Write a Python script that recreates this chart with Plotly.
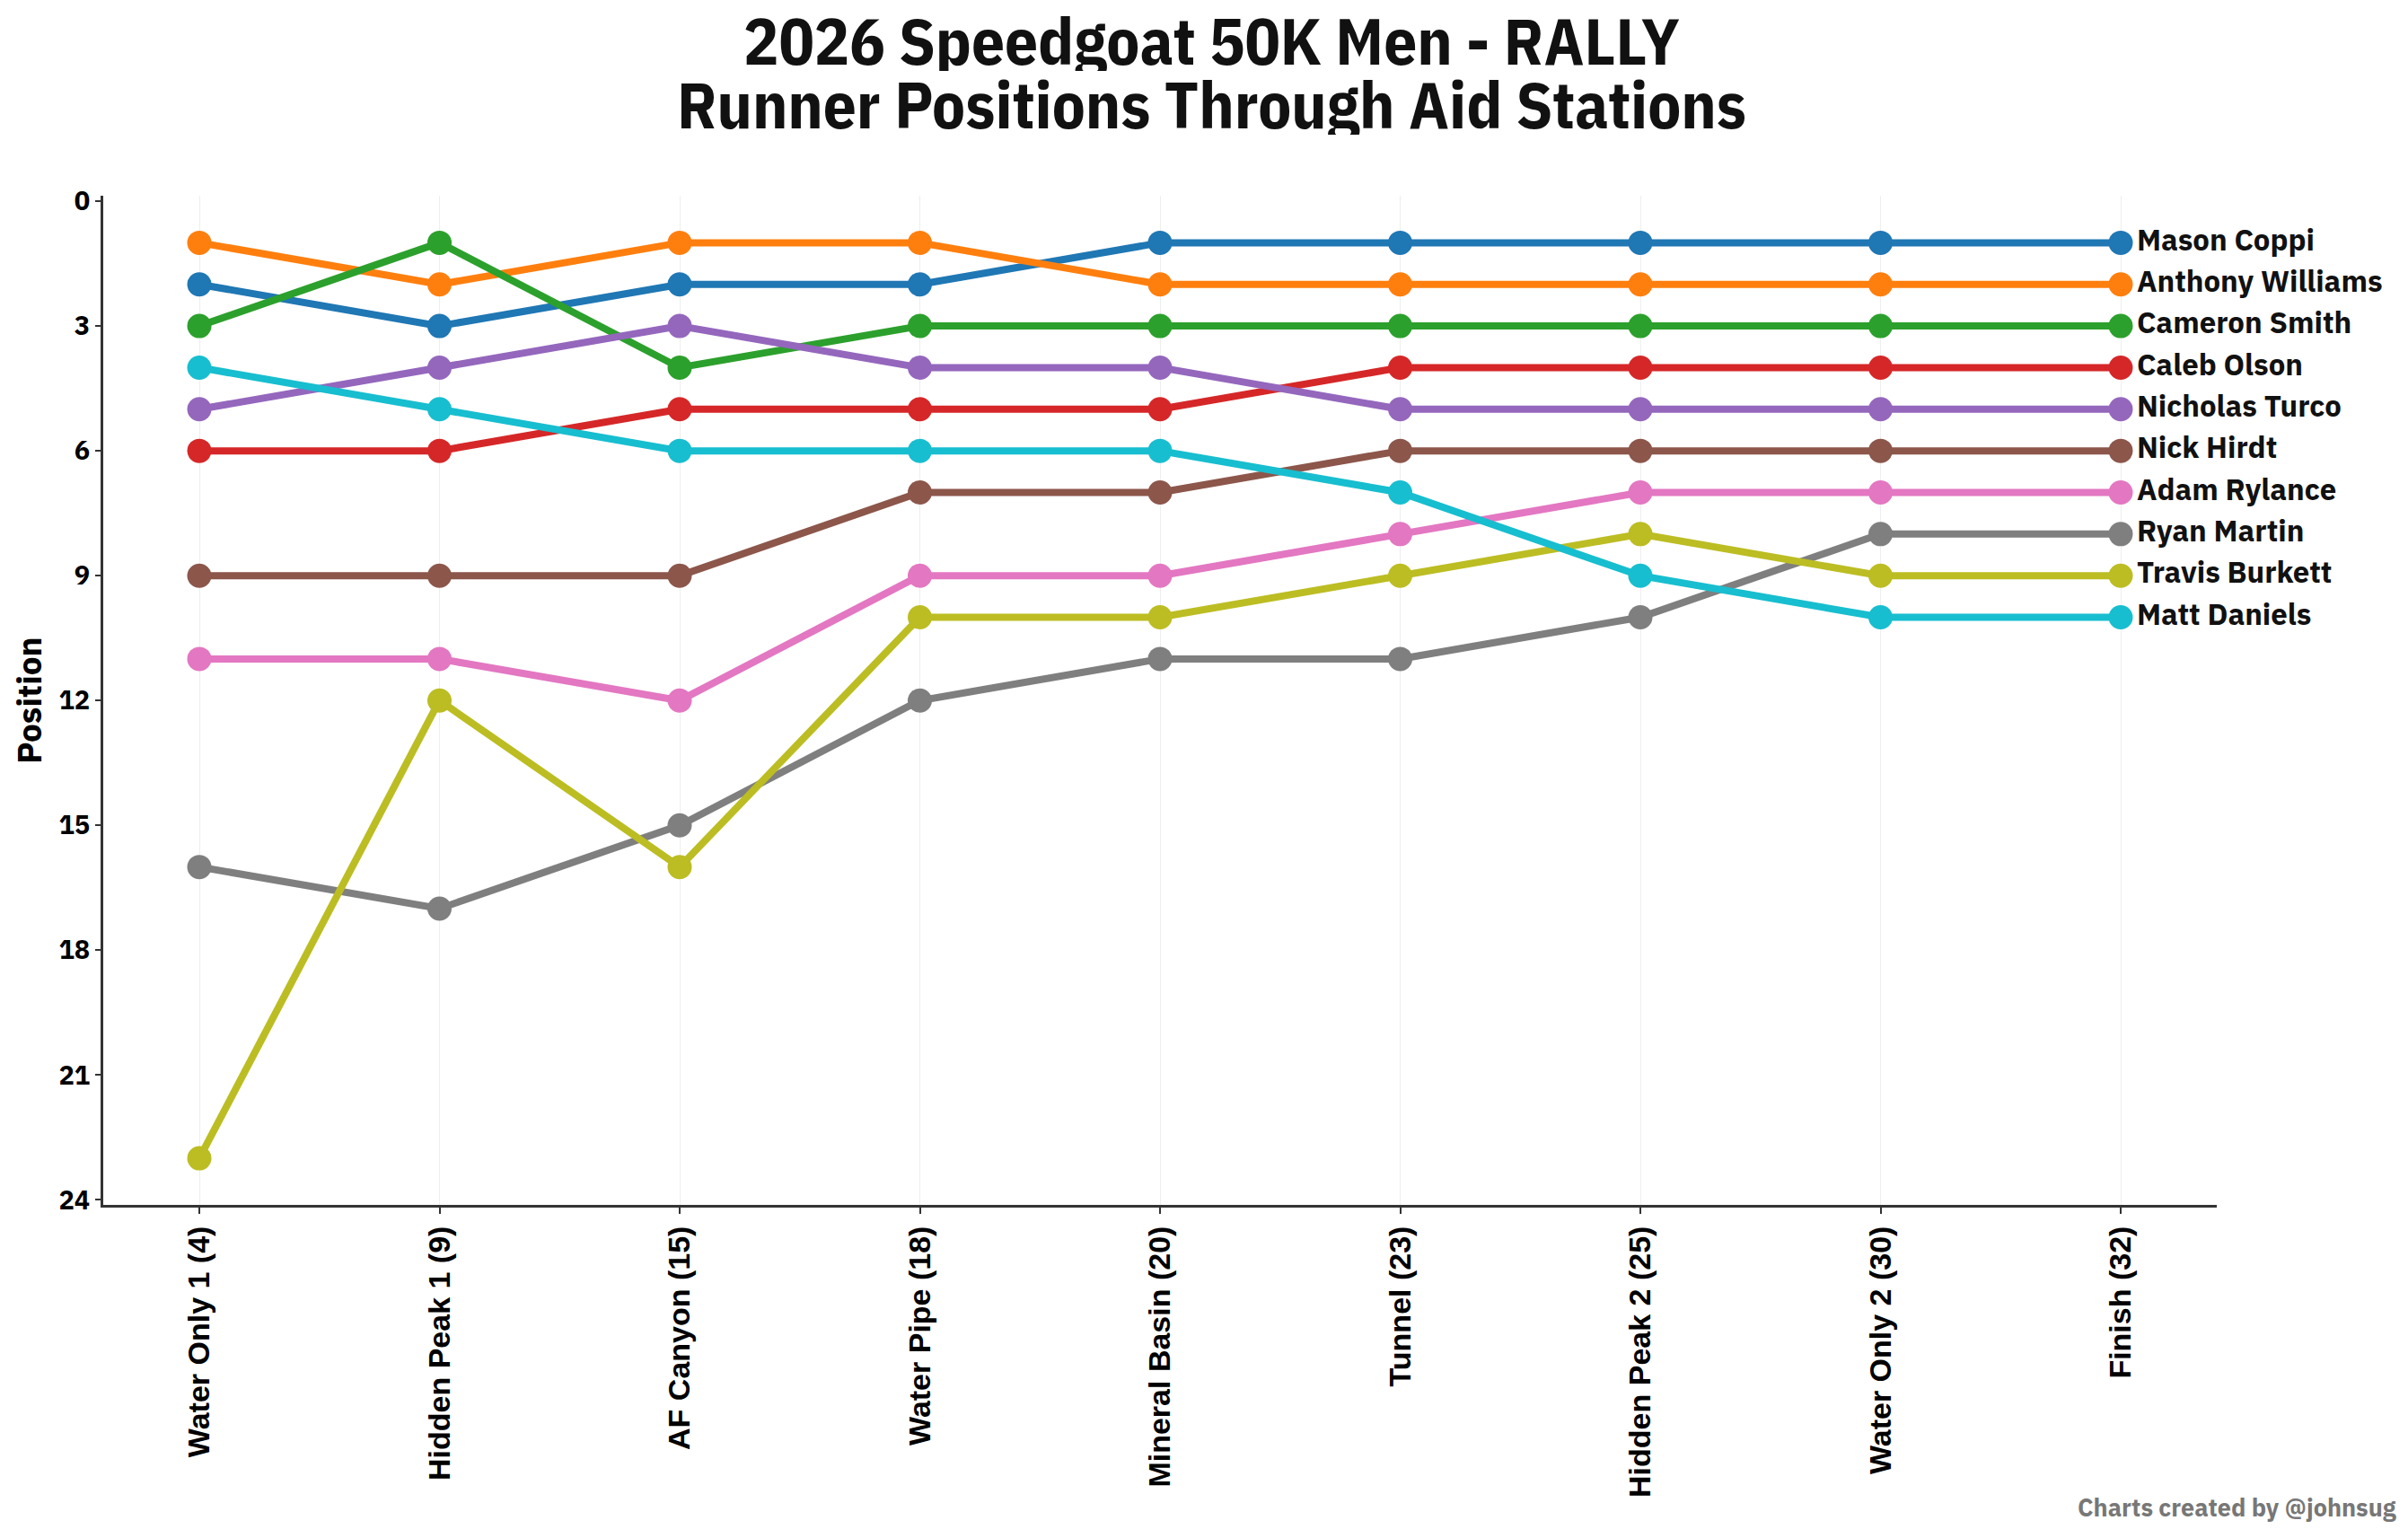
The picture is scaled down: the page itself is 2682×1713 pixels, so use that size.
import plotly.graph_objects as go

# aid stations (mile) and runner positions at each one
stations = ["Water Only 1 (4)", "Hidden Peak 1 (9)", "AF Canyon (15)", "Water Pipe (18)",
            "Mineral Basin (20)", "Tunnel (23)", "Hidden Peak 2 (25)", "Water Only 2 (30)",
            "Finish (32)"]

mason_coppi = [2, 3, 2, 2, 1, 1, 1, 1, 1]
anthony_williams = [1, 2, 1, 1, 2, 2, 2, 2, 2]
cameron_smith = [3, 1, 4, 3, 3, 3, 3, 3, 3]
caleb_olson = [6, 6, 5, 5, 5, 4, 4, 4, 4]
nicholas_turco = [5, 4, 3, 4, 4, 5, 5, 5, 5]
nick_hirdt = [9, 9, 9, 7, 7, 6, 6, 6, 6]
adam_rylance = [11, 11, 12, 9, 9, 8, 7, 7, 7]
ryan_martin = [16, 17, 15, 12, 11, 11, 10, 8, 8]
travis_burkett = [23, 12, 16, 10, 10, 9, 8, 9, 9]
matt_daniels = [4, 5, 6, 6, 6, 7, 9, 10, 10]

runners = [
    ("Mason Coppi", mason_coppi, "#1f77b4"),
    ("Anthony Williams", anthony_williams, "#ff7f0e"),
    ("Cameron Smith", cameron_smith, "#2ca02c"),
    ("Caleb Olson", caleb_olson, "#d62728"),
    ("Nicholas Turco", nicholas_turco, "#9467bd"),
    ("Nick Hirdt", nick_hirdt, "#8c564b"),
    ("Adam Rylance", adam_rylance, "#e377c2"),
    ("Ryan Martin", ryan_martin, "#7f7f7f"),
    ("Travis Burkett", travis_burkett, "#bcbd22"),
    ("Matt Daniels", matt_daniels, "#17becf"),
]

title_lines = ["2026 Speedgoat 50K Men - RALLY", "Runner Positions Through Aid Stations"]

plex = "IBM Plex Sans, Noto Sans, Open Sans, sans-serif"
narrow = "IBM Plex Sans Condensed, Liberation Sans Narrow, DejaVu Sans Condensed, sans-serif"
arial = "Liberation Sans, Arial, sans-serif"

fig = go.Figure()

for name, pos, color in runners:
    # runner name only next to the finish point
    labels = [""] * (len(stations) - 1) + ["<b>" + name + "</b>"]
    fig.add_scatter(
        x=stations,
        y=pos,
        mode='lines+markers+text',
        name=name,
        text=labels,
        textposition='middle right',
        textfont=dict(family=plex, size=33, color="#111111"),
        line=dict(color=color, width=8),
        marker=dict(color=color, size=27),
        cliponaxis=False,
    )

# two title lines as separate texts so the line spacing stays tight
title_notes = []
for line, ypos in zip(title_lines, [1.155, 1.092]):
    title_notes.append(dict(
        text="<b>" + line + "</b>",
        xref='paper', yref='paper',
        x=0.5 - 107 / 2354 / 2 + 221 / 2354 / 2, y=ypos,
        xanchor='center', yanchor='middle',
        height=70,
        showarrow=False,
        font=dict(family=narrow, size=73, color="#111111"),
    ))

fig.update_layout(
    width=2682,
    height=1713,
    showlegend=False,
    plot_bgcolor='white',
    paper_bgcolor='white',
    margin=dict(l=107, r=221, t=210, b=379),
    xaxis=dict(
        range=[-0.4, 8.4],
        showgrid=True,
        gridcolor="#eeeeee",
        gridwidth=1,
        showline=True,
        linecolor="#333333",
        linewidth=3,
        ticks='outside',
        ticklen=7,
        tickwidth=2,
        tickcolor="#333333",
        tickangle=-90,
        tickfont=dict(family=arial, size=34, color="black"),
        tickprefix="<b>",
        ticksuffix="</b>",
        zeroline=False,
    ),
    yaxis=dict(
        range=[24.12, -0.13],
        tickmode='linear',
        tick0=0,
        dtick=3,
        showgrid=False,
        showline=True,
        linecolor="#333333",
        linewidth=3,
        ticks='outside',
        ticklen=6,
        tickwidth=2,
        tickcolor="#333333",
        tickfont=dict(family=plex, size=29, color="black"),
        tickprefix="<b>",
        ticksuffix="</b>",
        title=dict(text="<b>Position</b>", font=dict(family=plex, size=37, color="black"), standoff=18),
        zeroline=False,
    ),
    annotations=title_notes + [
        dict(
            text="<b>Charts created by @johnsug</b>",
            xref='paper', yref='paper',
            x=1.0858, y=-0.299,
            xanchor='right', yanchor='middle',
            showarrow=False,
            font=dict(family=plex, size=27, color="#777777"),
        )
    ],
)

fig.write_html("out.html")
